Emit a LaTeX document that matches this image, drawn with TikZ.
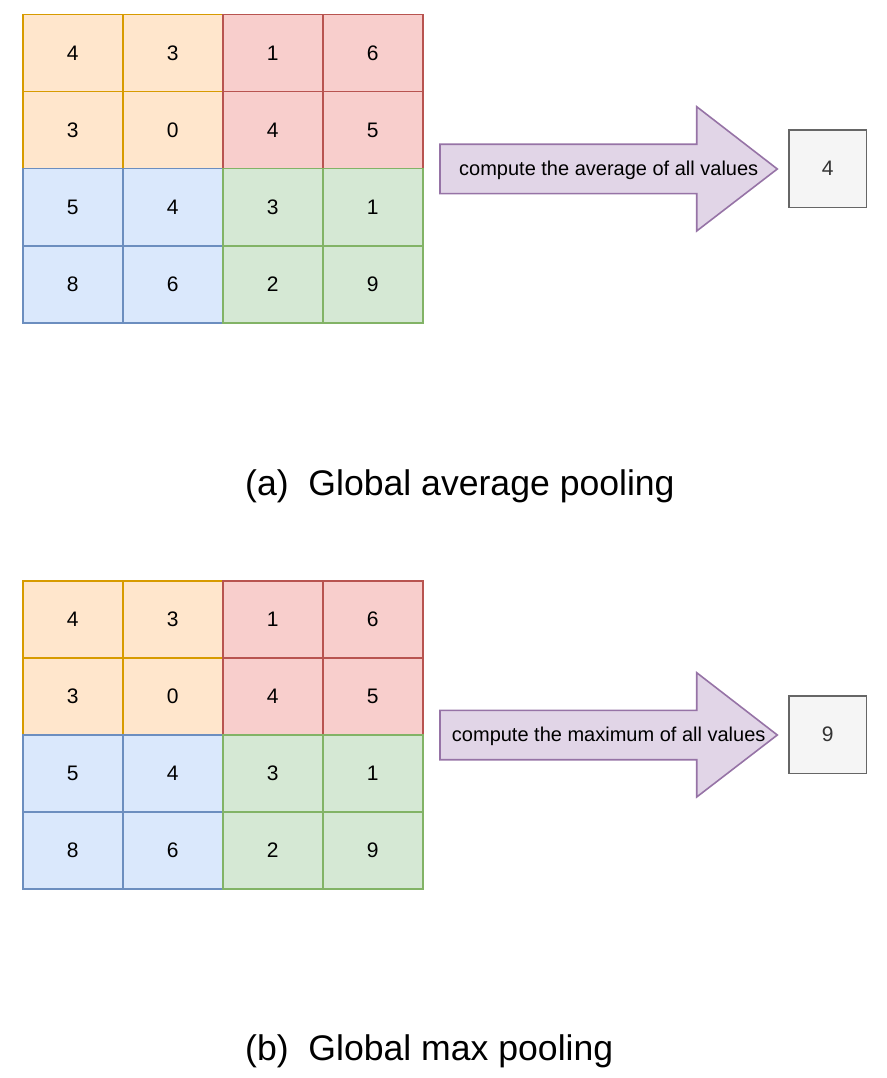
\documentclass[tikz,border=0pt]{standalone}
\usepackage{fontspec}
\setmainfont{Liberation Sans}
\definecolor{ofill}{HTML}{FFE6CC}\definecolor{odraw}{HTML}{D79B00}
\definecolor{rfill}{HTML}{F8CECC}\definecolor{rdraw}{HTML}{B85450}
\definecolor{bfill}{HTML}{DAE8FC}\definecolor{bdraw}{HTML}{6C8EBF}
\definecolor{gfill}{HTML}{D5E8D4}\definecolor{gdraw}{HTML}{82B366}
\definecolor{pfill}{HTML}{E1D5E7}\definecolor{pdraw}{HTML}{9673A6}
\definecolor{xfill}{HTML}{F5F5F5}\definecolor{xdraw}{HTML}{666666}
\definecolor{xtext}{HTML}{333333}
\tikzset{
  cell/.style={rectangle, inner sep=0pt, minimum width=100pt, minimum height=77pt, line width=1.6pt, font=\fontsize{21}{25}\selectfont},
  bigarrow/.style={fill=pfill, draw=pdraw, line width=1.6pt, line join=miter},
  arrowtext/.style={anchor=base, inner sep=0pt, font=\fontsize{20}{24}\selectfont},
  outbox/.style={rectangle, inner sep=0pt, minimum width=77.5pt, minimum height=77.5pt, fill=xfill, draw=xdraw, text=xtext, line width=1.8pt, font=\fontsize{21}{25}\selectfont},
  caption/.style={anchor=base west, inner sep=0pt, font=\fontsize{35.6}{42}\selectfont}
}
\begin{document}
\begin{tikzpicture}[x=1pt,y=-1pt]
\useasboundingbox (0,0) rectangle (886,1078);
\foreach \g/\top/\out/\txt in {a/14.7/4/compute the average of all values, b/580.7/9/compute the maximum of all values}{
  \foreach \r/\c/\v/\fc/\dc in {
    0/0/4/ofill/odraw, 0/1/3/ofill/odraw, 1/0/3/ofill/odraw, 1/1/0/ofill/odraw,
    0/2/1/rfill/rdraw, 0/3/6/rfill/rdraw, 1/2/4/rfill/rdraw, 1/3/5/rfill/rdraw,
    2/0/5/bfill/bdraw, 2/1/4/bfill/bdraw, 3/0/8/bfill/bdraw, 3/1/6/bfill/bdraw,
    2/2/3/gfill/gdraw, 2/3/1/gfill/gdraw, 3/2/2/gfill/gdraw, 3/3/9/gfill/gdraw}{
    \node[cell, fill=\fc, draw=\dc] (\g-\r-\c) at ({72.7+100*\c},{\top+38.5+77*\r}) {\v};
  }
  \draw[bigarrow] (440,{\top+129.6}) coordinate (\g-tail) -- (696.7,{\top+129.6}) -- (696.7,{\top+92}) -- (777.3,{\top+154.3}) coordinate (\g-tip) -- (696.7,{\top+216.3}) -- (696.7,{\top+179}) -- (440,{\top+179}) -- cycle;
  \node[arrowtext] (\g-op) at (608.7,{\top+160.8}) {\txt};
  \node[outbox] (\g-out) at (827.8,{\top+154}) {\out};
}
\node[caption] (a-cap) at (245,495) {(a)\ \ Global average pooling};
\node[caption] (b-cap) at (245,1060) {(b)\ \ Global max pooling};
\end{tikzpicture}
\end{document}
